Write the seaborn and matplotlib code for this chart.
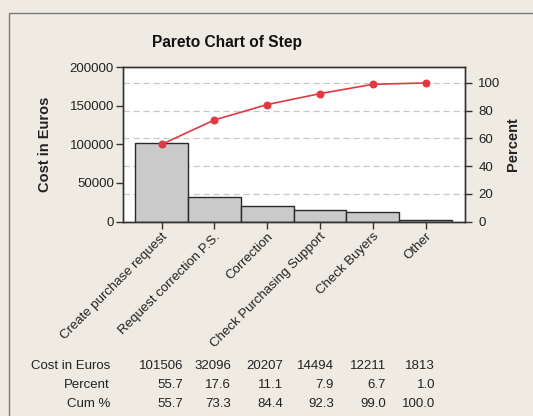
import numpy as np
import pandas as pd
import matplotlib
matplotlib.use("Agg")
import matplotlib.pyplot as plt
from matplotlib.patches import Rectangle
import seaborn as sns

categories = ["Create purchase request", "Request correction P.S.", "Correction",
              "Check Purchasing Support", "Check Buyers", "Other"]
cost = [101506, 32096, 20207, 14494, 12211, 1813]
percent = [55.7, 17.6, 11.1, 7.9, 6.7, 1.0]
cum_pct = [55.7, 73.3, 84.4, 92.3, 99.0, 100.0]
left_ticks = [0, 50000, 100000, 150000, 200000]
right_ticks = [0, 20, 40, 60, 80, 100]

sns.set_theme(style="white")
plt.rcParams['font.family'] = ['Liberation Sans', 'DejaVu Sans']

BG = "#EFEBE3"
W, H = 533, 416
fig = plt.figure(figsize=(W/100, H/100), dpi=100, facecolor=BG)
fig.patches.append(Rectangle((9/W, -0.1), 1.2, 0.1 + 1 - 13/H, transform=fig.transFigure,
                             facecolor=BG, edgecolor="#7a7a7a", linewidth=1.0, zorder=-10))

ax = fig.add_axes([123/W, 1 - 221.5/H, 341.5/W, 154.5/H])
ax.set_facecolor("white")
df = pd.DataFrame({"step": categories, "cost": cost})
sns.barplot(data=df, x="step", y="cost", ax=ax, width=1.0, color="#CACACA",
            edgecolor="#2a2a2a", linewidth=1.0, saturation=1)
RIGHT_TOP = 111.5
ax.set_xlim(-0.733, 5.737)
ax.set_ylim(0, 200000)
ax.set_yticks(left_ticks)
ax.set_yticklabels([str(t) for t in left_ticks], fontsize=9.5, color="#222")
grid_pos = [p / RIGHT_TOP * 200000 for p in right_ticks[1:]]
ax.set_yticks(grid_pos, minor=True)
ax.grid(which="minor", axis="y", linestyle=(0, (5, 3)), color="#c8c8c8", linewidth=0.9)
ax.grid(which="major", visible=False)
ax.set_axisbelow(True)
ax.tick_params(which="minor", length=0)
ax.tick_params(axis="both", which="major", direction="out", length=5, width=1,
               color="#333", left=True, bottom=True, pad=1.5)
ax.set_xticks(range(len(categories)))
ax.set_xticklabels(categories, rotation=45, ha="right", rotation_mode="anchor",
                   fontsize=9.5, color="#222")
ax.set_xlabel("")
ax.set_ylabel("Cost in Euros", fontsize=10.5, fontweight="bold", color="#222", labelpad=13)
for s in ax.spines.values():
    s.set_color("#333")
    s.set_linewidth(1.0)

ax2 = ax.twinx()
sns.lineplot(x=np.arange(len(categories)), y=cum_pct, ax=ax2, color="#E2383F",
             marker="o", markersize=5, markeredgecolor="#E2383F", linewidth=1.2)
ax2.set_ylim(0, RIGHT_TOP)
ax2.set_yticks(right_ticks)
ax2.set_yticklabels([str(t) for t in right_ticks], fontsize=9.5, color="#222")
ax2.tick_params(axis="y", direction="out", length=5, width=1, color="#333", right=True, pad=5)
ax2.set_ylabel("Percent", fontsize=10.5, fontweight="bold", color="#222", labelpad=4)
for s in ax2.spines.values():
    s.set_color("#333")
    s.set_linewidth(1.0)

fig.text(227/W, 1 - 43/H, "Pareto Chart of Step", ha="center", va="center",
         fontsize=11.2, fontweight="bold", color="#111")

rows = [("Cost in Euros", [str(v) for v in cost]),
        ("Percent", [f"{v:.1f}" for v in percent]),
        ("Cum %", [f"{v:.1f}" for v in cum_pct])]
row_y = [366, 385, 404]
col_right = [183, 231, 283, 334, 386, 435]
for (label, vals), y in zip(rows, row_y):
    fig.text(110/W, 1 - y/H, label, ha="right", va="center", fontsize=9.5, color="#222")
    for xr, v in zip(col_right, vals):
        fig.text(xr/W, 1 - y/H, v, ha="right", va="center", fontsize=9.5, color="#222")

fig.savefig("out.png", dpi=100, facecolor=BG)
